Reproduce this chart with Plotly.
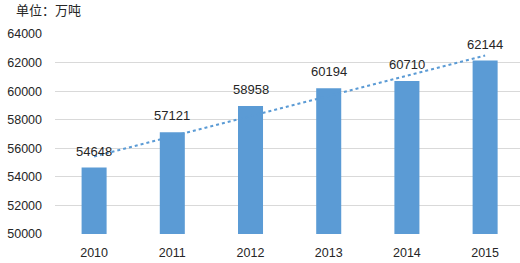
import numpy as np
import plotly.graph_objects as go

years = ["2010", "2011", "2012", "2013", "2014", "2015"]
values = [54648, 57121, 58958, 60194, 60710, 62144]
unit_label = "单位：万吨"
y_ticks = [50000, 52000, 54000, 56000, 58000, 60000, 62000, 64000]

xi = np.arange(len(values))
slope, intercept = np.polyfit(xi, values, 1)
trend = slope * xi + intercept

fig = go.Figure()
fig.add_trace(go.Bar(
    x=xi, y=values, marker=dict(color="#5b9bd5", line=dict(width=0)),
    width=0.32,
))
fig.add_trace(go.Scatter(
    x=xi, y=trend, mode="lines",
    line=dict(color="#5b9bd5", width=2, dash="dot"),
))
annotations = [dict(text=str(v), x=i, y=v, xref="x", yref="y", showarrow=False,
                    xanchor="center", yanchor="bottom", yshift=7,
                    font=dict(family="Liberation Sans, Arial", size=13, color="#262626"))
               for i, v in zip(xi, values)]
annotations.append(dict(text=unit_label, x=(14 - 55) / 465, y=(263 - 29 - 10) / 200,
                        xref="paper", yref="paper",
                        showarrow=False, xanchor="left", yanchor="middle",
                        font=dict(family="Noto Sans CJK SC", size=13, color="#262626")))
fig.update_layout(
    width=520, height=263, margin=dict(l=55, r=0, t=34, b=29),
    paper_bgcolor="white", plot_bgcolor="white", showlegend=False,
    font=dict(family="Liberation Sans, Arial", size=12, color="#404040"),
    xaxis=dict(range=[-0.5, 5.446], tickvals=list(xi), ticktext=years,
               showgrid=False, zeroline=False, ticks="", showline=False,
               ticklabelstandoff=9,
               tickfont=dict(size=12.5, color="#262626")),
    yaxis=dict(range=[50000, 64000], tickvals=y_ticks, ticktext=[str(t) for t in y_ticks],
               showgrid=True, gridcolor="#d9d9d9", gridwidth=1, zeroline=False, ticks="",
               ticklabelstandoff=12, tickfont=dict(size=12.5, color="#262626")),
    annotations=annotations,
)
fig.write_html("out.html")
